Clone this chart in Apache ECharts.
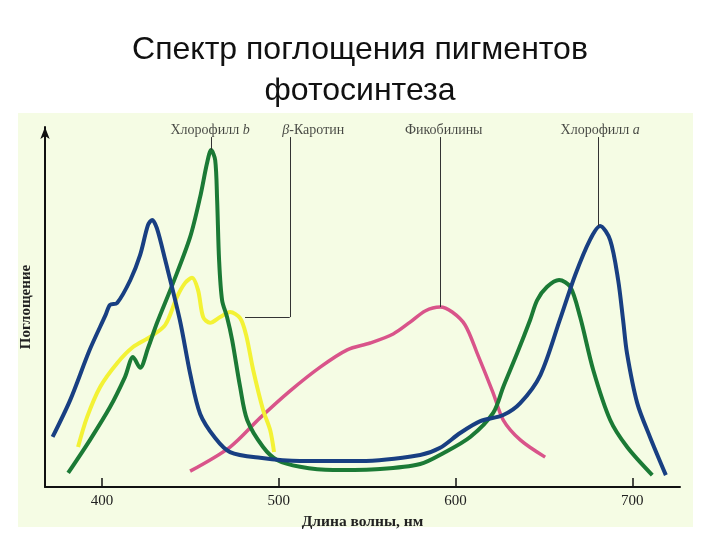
<!DOCTYPE html>
<html><head><meta charset="utf-8">
<script src="https://cdn.jsdelivr.net/npm/echarts@6/dist/echarts.min.js"></script>
<style>html,body{margin:0;padding:0;background:#fff}#c{width:720px;height:540px}</style>
</head><body><div id="c"></div>
<script>
// wavelength (nm), absorbance (relative units)
var chlA = [[372,13.9],[382,24.2],[393,38.1],[402,47.8],[404.5,50.6],[408.5,51.1],[416,57.5],[421.5,64.4],[426,72.8],[428.3,74.2],[431,71.9],[435.7,63.1],[444,46.4],[450,31.1],[455.5,20.3],[464,13.6],[472.4,9.7],[489.4,8.1],[512,7.2],[546,7.2],[580,8.9],[591,10.8],[602.6,15.0],[614,18.3],[627,20.0],[636.6,23.3],[648,31.1],[659,46.4],[667.7,58.9],[676,68.6],[681.8,72.5],[687.5,68.6],[692,57.5],[694.8,46.4],[697,37.2],[702.8,23.3],[710,13.9],[719,3.3]];
var chlB = [[380.8,3.9],[393.2,13.1],[404.5,22.2],[413,30.6],[417.5,36.1],[421.5,33.1],[426,38.6],[431.1,45.6],[440.2,56.7],[449.8,69.4],[455.5,80.6],[459.4,90.0],[461.7,93.6],[464,90.8],[465.1,79.7],[466.2,63.1],[467.9,51.9],[470.7,47.2],[473.6,40.8],[478.1,27.8],[482.1,18.6],[491.1,11.1],[499,7.5],[512,5.6],[530.7,4.7],[557.3,5.0],[580,6.4],[593,9.4],[608.3,13.9],[621.3,20.6],[627,27.8],[634.9,37.2],[642.2,46.4],[646.2,51.9],[651.8,55.6],[658.6,57.5],[664.9,55.6],[670.5,47.2],[677.9,32.5],[687.5,18.6],[697.1,11.1],[711.3,3.3]];
var carotene = [[386.4,11.1],[391.5,19.4],[398.9,27.8],[408.5,34.4],[417.5,38.9],[427.2,41.7],[435.7,45.0],[442.4,52.8],[447,56.7],[450.9,58.1],[454.3,54.7],[457.2,47.2],[461.1,45.6],[466.8,47.2],[472.4,48.6],[478.1,46.9],[481.5,42.2],[485.5,32.5],[491.1,21.4],[495.1,15.8],[497.3,9.7]];
var phyco = [[449.8,4.4],[472.4,11.1],[489.4,19.2],[506.4,26.7],[523.4,33.3],[538.7,38.1],[551.7,40.0],[564.7,42.5],[574.3,45.8],[582.8,48.9],[591.3,50.0],[598.1,48.6],[605.4,45.0],[612.2,37.2],[621.3,26.1],[627,18.6],[636.6,13.1],[650.7,8.3]];
var xTicks = [400,500,600,700];
// annotation labels: [text, x(nm), y]
var annoLabels = [
  ['{n|Хлорофилл }{i|b}', 461.1, 99.2],
  ['{i|β}{n|-Каротин}', 519.5, 99.2],
  ['{n|Фикобилины}', 593.3, 99.2],
  ['{n|Хлорофилл }{i|a}', 681.8, 99.2]
];
var leaderTop = 97.2;

var chart = echarts.init(document.getElementById('c'));
var serif = 'Liberation Serif';
function leader(x, y0){ return [{coord:[x,y0]},{coord:[x,leaderTop]}]; }
var ml = function(data){ return {silent:true, symbol:['none','none'], label:{show:false}, lineStyle:{color:'#333', width:1, type:'solid'}, data:data}; };
function curve(name, data, color, width, mark){
  return {name:name, type:'line', data:data, smooth:0.3, showSymbol:false,
    lineStyle:{color:color, width:width}, markLine:ml(mark)};
}

chart.setOption({
  animation:false,
  backgroundColor:'#ffffff',
  title:{text:'Спектр поглощения пигментов\nфотосинтеза', left:'center', top:25,
    textStyle:{fontFamily:'Liberation Sans', fontSize:32, fontWeight:'normal', color:'#111', lineHeight:41}},
  graphic:[{type:'rect', z:-10, silent:true, shape:{x:18,y:113,width:675,height:414}, style:{fill:'#f5fce4'}}],
  grid:{left:45, right:40, top:127, bottom:53},
  xAxis:{type:'value', min:367.7, max:727,
    name:'Длина волны, нм', nameLocation:'middle', nameGap:27,
    nameTextStyle:{fontFamily:serif, fontSize:15.5, fontWeight:'bold', color:'#222'},
    axisLine:{show:true, onZero:false, lineStyle:{color:'#111', width:2}},
    axisTick:{show:true, inside:true, length:9, customValues:xTicks, lineStyle:{color:'#111', width:1.5}},
    axisLabel:{customValues:xTicks, fontFamily:serif, fontSize:15, color:'#222', margin:7},
    splitLine:{show:false}},
  yAxis:{type:'value', min:0, max:100,
    name:'Поглощение', nameLocation:'middle', nameGap:11, nameRotate:90,
    nameTextStyle:{fontFamily:serif, fontSize:15, fontWeight:'bold', color:'#222'},
    axisLine:{show:true, onZero:false, symbol:['none','arrow'], symbolSize:[7,12], lineStyle:{color:'#111', width:2}},
    axisTick:{show:false}, axisLabel:{show:false}, splitLine:{show:false}},
  series:[
    curve('Фикобилины', phyco, '#d9548a', 3.5, [leader(591.3, 50.0)]),
    curve('β-Каротин', carotene, '#f3f235', 4, [leader(506.2, 47.2), [{coord:[480.9,47.2]},{coord:[506.2,47.2]}]]),
    curve('Хлорофилл b', chlB, '#1b7a35', 4, [leader(461.9, 93.6)]),
    curve('Хлорофилл a', chlA, '#183f82', 4, [leader(680.7, 72.5)]),
    {name:'labels', type:'scatter', symbolSize:0, silent:true,
      data:annoLabels.map(function(a){return {value:[a[1],a[2]], name:a[0]};}),
      label:{show:true, position:'inside', formatter:function(p){return p.name;},
        rich:{n:{fontFamily:serif, fontSize:14, color:'#1a1a1a'}, i:{fontFamily:serif, fontSize:14, fontStyle:'italic', color:'#1a1a1a'}}}}
  ]
});
</script></body></html>
